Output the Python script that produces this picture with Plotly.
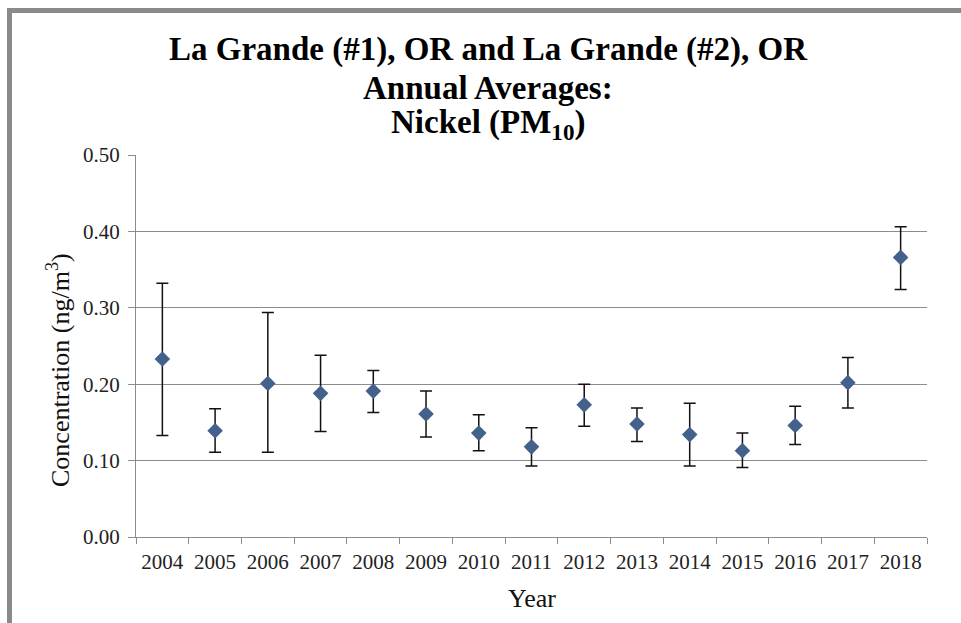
import plotly.graph_objects as go

years = ["2004", "2005", "2006", "2007", "2008", "2009", "2010", "2011",
         "2012", "2013", "2014", "2015", "2016", "2017", "2018"]
means = [0.233, 0.139, 0.201, 0.188, 0.191, 0.161, 0.136, 0.118,
         0.173, 0.148, 0.134, 0.113, 0.146, 0.202, 0.366]
upper = [0.332, 0.168, 0.294, 0.238, 0.218, 0.191, 0.160, 0.143,
         0.200, 0.169, 0.175, 0.136, 0.171, 0.235, 0.406]
lower = [0.133, 0.111, 0.111, 0.138, 0.163, 0.131, 0.113, 0.093,
         0.145, 0.125, 0.093, 0.091, 0.121, 0.169, 0.324]
y_ticks = [0.0, 0.1, 0.2, 0.3, 0.4, 0.5]

W, H = 961, 623
L, R, T, B = 136, 34, 155, 86
PW, PH = W - L - R, H - T - B

def px(x):
    return (x - L) / PW

def py(y):
    return (H - B - y) / PH

err_plus = [u - m for u, m in zip(upper, means)]
err_minus = [m - l for m, l in zip(means, lower)]

fig = go.Figure()
fig.add_trace(go.Scatter(
    x=years, y=means, mode="markers",
    marker=dict(symbol="diamond", size=12, color="#44618C",
                line=dict(width=0)),
    error_y=dict(type="data", symmetric=False, array=err_plus,
                 arrayminus=err_minus, color="#111111", thickness=1.5, width=6),
    showlegend=False,
))

serif = "Liberation Serif, Times New Roman, serif"
tick_font = dict(family=serif, size=21, color="#222222")

fig.update_layout(
    width=W, height=H,
    margin=dict(l=L, r=R, t=T, b=B, pad=0),
    paper_bgcolor="white", plot_bgcolor="white",
    font=dict(family=serif, color="#111111"),
    xaxis=dict(
        type="category", range=[-0.5, len(years) - 0.5],
        showgrid=False, showline=True, linecolor="#8c8c8c", linewidth=1,
        ticks="outside", tickson="boundaries", ticklen=6, tickcolor="#8c8c8c",
        tickfont=tick_font, ticklabelstandoff=6,
        zeroline=False,
    ),
    yaxis=dict(
        range=[0, 0.5], tickvals=y_ticks, tickformat=".2f",
        showgrid=True, gridcolor="#8c8c8c", gridwidth=1,
        showline=True, linecolor="#8c8c8c", linewidth=1,
        ticks="outside", ticklen=7, tickcolor="#8c8c8c",
        tickfont=tick_font, ticklabelstandoff=4,
        zeroline=False,
    ),
)

axis_title_font = dict(family=serif, size=26, color="#111111")
fig.add_annotation(text="Year", xref="paper", yref="paper",
                   x=px(532), y=py(598), xanchor="center", yanchor="middle",
                   showarrow=False, font=axis_title_font)
fig.add_annotation(text="Concentration (ng/m<sup>3</sup>)", xref="paper", yref="paper",
                   x=px(58), y=py(370), xanchor="center", yanchor="middle",
                   textangle=-90, showarrow=False, font=axis_title_font)

title_font = dict(family=serif, size=33, color="#000000")
title_lines = [
    ("<b>La Grande (#1), OR and La Grande (#2), OR</b>", 49),
    ("<b>Annual Averages:</b>", 88),
    ("<b>Nickel (PM<sub>10</sub>)</b>", 124),
]
for text, ypix in title_lines:
    fig.add_annotation(text=text, xref="paper", yref="paper",
                       x=px(488), y=py(ypix), xanchor="center", yanchor="middle",
                       showarrow=False, font=title_font)

# outer gray frame (cropped on right and bottom)
fig.add_shape(type="rect", xref="paper", yref="paper",
              x0=px(9.5), x1=px(990), y0=py(10.5), y1=py(660),
              line=dict(color="#8a8a8a", width=5), fillcolor="rgba(0,0,0,0)",
              layer="below")

fig.write_html("out.html")
